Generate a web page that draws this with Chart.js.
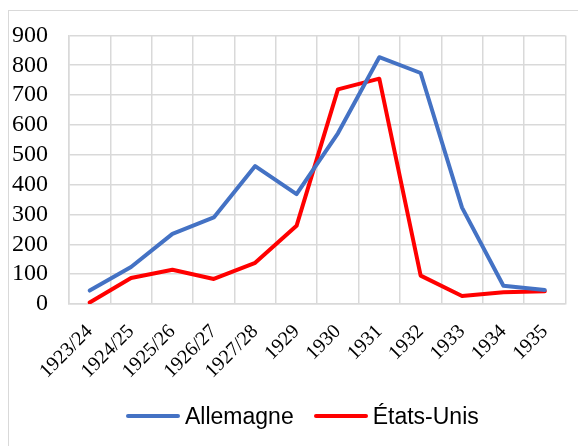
<!DOCTYPE html>
<html>
<head>
<meta charset="utf-8">
<script src="https://cdn.jsdelivr.net/npm/chart.js@4"></script>
<style>
    body { margin: 0; background: #fff; }
    #wrap { position: relative; width: 578px; height: 446px; overflow: hidden; }
    #frame { position: absolute; left: 8px; top: 10px; width: 600px; height: 460px; border: 1.5px solid #d9d9d9; box-sizing: border-box; }
    #chart { position: absolute; left: 0; top: 0; }
    #legend { position: absolute; left: 126px; top: 401px; height: 30px; display: flex; align-items: center; font-family: "Liberation Sans", Arial, sans-serif; font-size: 23px; color: #000; white-space: nowrap; }
    #legend .item { display: flex; align-items: center; margin-right: 20px; }
    #legend .swatch { display: inline-block; width: 54px; height: 4px; border-radius: 2px; margin-right: 5px; }
</style>
</head>
<body>
<div id="wrap">
    <div id="frame"></div>
    <canvas id="chart" width="578" height="446"></canvas>
    <div id="legend"></div>
</div>
<script>
const categories = ['1923/24', '1924/25', '1925/26', '1926/27', '1927/28', '1929', '1930', '1931', '1932', '1933', '1934', '1935'];
const allemagne = [45, 124, 235, 290, 462, 368, 572, 827, 774, 323, 61, 47];
const etatsUnis = [5, 87, 115, 84, 138, 262, 719, 755, 95, 27, 39, 43];
const yMin = 0;
const yMax = 900;
const yStep = 100;

const seriesNames = ['Allemagne', 'États-Unis'];
const seriesColors = ['#4472C4', '#FF0000'];

const serif = "'Liberation Serif', 'Times New Roman', serif";

const ctx = document.getElementById('chart').getContext('2d');
const chart = new Chart(ctx, {
    type: 'line',
    data: {
        labels: categories,
        datasets: [
            { label: seriesNames[0], data: allemagne, borderColor: seriesColors[0], backgroundColor: seriesColors[0], borderWidth: 4, pointRadius: 0, tension: 0, borderJoinStyle: 'round', borderCapStyle: 'round' },
            { label: seriesNames[1], data: etatsUnis, borderColor: seriesColors[1], backgroundColor: seriesColors[1], borderWidth: 4, pointRadius: 0, tension: 0, borderJoinStyle: 'round', borderCapStyle: 'round' }
        ]
    },
    options: {
        responsive: false,
        animation: false,
        layout: { padding: { left: 0, top: 33, right: 6, bottom: 0 } },
        plugins: {
            legend: { display: false },
            tooltip: { enabled: false }
        },
        scales: {
            x: {
                offset: true,
                grid: { color: '#d9d9d9', lineWidth: 1.5, offset: true, drawTicks: false },
                border: { color: '#d9d9d9', width: 1.5 },
                ticks: {
                    color: '#000',
                    font: { family: serif, size: 20 },
                    minRotation: 45,
                    maxRotation: 45,
                    autoSkip: false,
                    padding: 16
                },
                afterFit: function(scale) { scale.height = 142; }
            },
            y: {
                min: yMin,
                max: yMax,
                grid: { color: '#d9d9d9', lineWidth: 1.5, drawTicks: false },
                border: { color: '#d9d9d9', width: 1.5 },
                ticks: {
                    stepSize: yStep,
                    autoSkip: false,
                    color: '#000',
                    font: { family: serif, size: 24 },
                    padding: 21
                },
                afterFit: function(scale) { scale.width = 69; }
            }
        }
    }
});

// légende HTML à partir des datasets
const legend = document.getElementById('legend');
chart.data.datasets.forEach(function(ds) {
    const item = document.createElement('span');
    item.className = 'item';
    item.innerHTML = '<span class="swatch" style="background:' + ds.borderColor + '"></span>' + ds.label;
    legend.appendChild(item);
});
</script>
</body>
</html>
